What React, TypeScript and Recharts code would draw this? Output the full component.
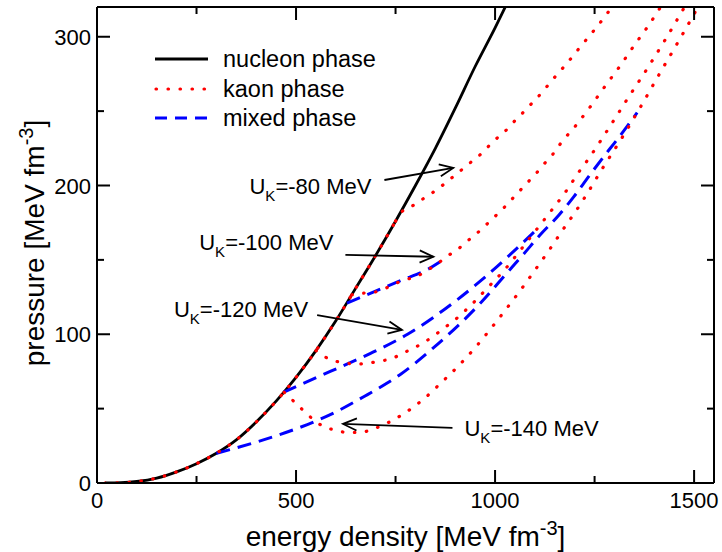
import React from 'react';
import { LineChart, Line, XAxis, YAxis, Legend, ReferenceLine } from 'recharts';

const FONT = '"Liberation Sans", Arial, Helvetica, sans-serif';

// energy density [MeV fm^-3] / pressure [MeV fm^-3]
const nucleonE = [20, 60, 100, 150, 200, 250, 300, 350, 400, 450, 500, 550, 600, 650, 700, 750, 800, 850, 900, 950, 1000, 1040];
const nucleonP = [0, 0.2, 1, 3.3, 7.5, 13, 20, 29, 41, 55, 71, 89, 109, 131, 153, 176, 200, 225, 252, 280, 306, 328];

// kaon condensed branches, each leaving the nucleon curve at its onset
const kaon80E = [750, 766, 793, 819, 844, 869, 893, 918, 941, 964, 986, 1008, 1031, 1053, 1074, 1095, 1116, 1137, 1156, 1177, 1216, 1255, 1294];
const kaon80P = [176, 182.4, 186.4, 191, 195.4, 200.3, 205.5, 211, 216, 221, 227, 232.6, 238, 244.5, 250, 256, 262, 268.7, 274.7, 281, 293.8, 306.4, 320];

const kaon100E = [640, 661, 691, 730, 766, 804, 830, 858, 883, 907, 931, 955, 977, 999, 1022, 1043, 1064, 1085, 1106, 1125, 1145, 1164, 1204, 1241, 1277, 1313, 1349, 1384, 1416];
const kaon100P = [126.5, 127.5, 128, 131.5, 136, 139, 143, 148, 153, 157.3, 162.7, 168, 173.4, 179, 185, 191, 197, 203, 209, 215, 221, 228, 240.7, 253.6, 267, 280, 294, 307, 320];

const kaon120E = [550, 586, 618, 650, 680, 710, 740, 766, 794, 821, 847, 871, 896, 941, 984, 1026, 1065, 1103, 1141, 1178, 1213, 1231, 1282, 1332, 1382, 1431, 1476];
const kaon120P = [89, 83, 81, 80, 80.5, 82, 83.5, 87, 90.5, 94.5, 99, 104, 109, 120, 132, 144, 157, 170, 183, 196, 210, 216.5, 237, 258, 278.5, 299.6, 320];

const kaon140E = [470, 498, 542, 569, 598, 628, 657, 688, 718, 745, 770, 795, 821, 865, 909, 951, 990, 1028, 1065, 1101, 1137, 1171, 1206, 1223, 1271, 1321, 1368, 1415, 1461, 1510];
const kaon140P = [61, 54, 43, 38, 35.6, 34, 34, 35.6, 39, 42.4, 46.5, 51, 56.5, 67.5, 79, 91.3, 104, 117, 130, 143.4, 157, 170.5, 184, 191, 212, 233, 254, 276, 297, 320];

// Gibbs mixed phases joining nucleon and kaon branches
const mixed100E = [628, 691, 766, 830, 875];
const mixed100P = [121, 128, 136.5, 143.5, 151];

const mixed120E = [468, 586, 686, 780, 904, 971, 1101];
const mixed120P = [61, 75, 87, 100, 123, 137.6, 169.5];

const mixed140E = [300, 418, 544, 594, 670, 728, 762, 837, 967, 1026, 1072, 1114, 1160, 1198, 1235, 1273, 1307, 1357];
const mixed140P = [20, 29, 41, 47, 58, 67, 73, 89, 122, 140, 154, 167, 180, 192.5, 206, 219.4, 231, 249];

const xTicks = [0, 250, 500, 750, 1000, 1250, 1500];
const yTicks = [0, 50, 100, 150, 200, 250, 300];

// U_K annotations: arrow tail -> arrow head, in data units
const noteLabels = ['-80', '-100', '-120', '-140'];
const noteTail = [[722, 203.7], [624, 153.3], [553, 112.9], [893, 37]];
const noteHead = [[895, 211.8], [845, 152.1], [766, 102.9], [618, 39.7]];

const legendNames = ['nucleon phase', 'kaon phase', 'mixed phase'];

const rows = (es: number[], ps: number[]) => es.map((e, i) => ({ e, p: ps[i] }));

const nucleonRows = rows(nucleonE, nucleonP);
const sharedKaonRows = nucleonRows.filter((r) => r.e <= 750);

// layout
const W = 722;
const H = 552;
const PLOT = { left: 97, top: 7, right: 714, bottom: 483 };
const MAJOR = 13;
const MINOR = 7;

const BLACK = { stroke: '#000', strokeWidth: 2.8 };
const RED = { stroke: '#ff0000', strokeWidth: 3.2, strokeDasharray: '0.5 11.5', strokeLinecap: 'round' as const };
const BLUE = { stroke: '#0000ff', strokeWidth: 3, strokeDasharray: '14 8' };

const noteStyle = [
  { dx: -13, dy: 14, anchor: 'end' },
  { dx: -12, dy: -5, anchor: 'end' },
  { dx: -9, dy: 2, anchor: 'end' },
  { dx: 12, dy: 8, anchor: 'start' },
];

function BottomTick(props: any) {
  const { x, y, payload } = props;
  const major = payload.value % 500 === 0;
  return (
    <g>
      <line x1={x} y1={y} x2={x} y2={y - (major ? MAJOR : MINOR)} stroke="#000" strokeWidth={2} />
      {major && (
        <text x={x} y={y + 24.5} textAnchor="middle" fontFamily={FONT} fontSize={22} fill="#000">
          {payload.value}
        </text>
      )}
    </g>
  );
}

function TopTick(props: any) {
  const { x, y, payload } = props;
  const major = payload.value % 500 === 0;
  return <line x1={x} y1={y} x2={x} y2={y + (major ? MAJOR : MINOR)} stroke="#000" strokeWidth={2} />;
}

function LeftTick(props: any) {
  const { x, y, payload } = props;
  const major = payload.value % 100 === 0;
  return (
    <g>
      <line x1={x} y1={y} x2={x + (major ? MAJOR : MINOR)} y2={y} stroke="#000" strokeWidth={2} />
      {major && (
        <text x={x - 6} y={y + 8} textAnchor="end" fontFamily={FONT} fontSize={22} fill="#000">
          {payload.value}
        </text>
      )}
    </g>
  );
}

function RightTick(props: any) {
  const { x, y, payload } = props;
  const major = payload.value % 100 === 0;
  return <line x1={x} y1={y} x2={x - (major ? MAJOR : MINOR)} y2={y} stroke="#000" strokeWidth={2} />;
}

function XTitle() {
  const cx = (PLOT.left + PLOT.right) / 2;
  return (
    <text x={cx} y={546} textAnchor="middle" fontFamily={FONT} fontSize={28} fill="#000">
      energy density [MeV fm<tspan dy={-11} fontSize={20}>-3</tspan>
      <tspan dy={11}>]</tspan>
    </text>
  );
}

function YTitle() {
  const cy = (PLOT.top + PLOT.bottom) / 2 - 2;
  return (
    <text
      x={44}
      y={cy}
      transform={`rotate(-90 44 ${cy})`}
      textAnchor="middle"
      fontFamily={FONT}
      fontSize={28}
      fill="#000"
    >
      pressure [MeV fm<tspan dy={-11} fontSize={20}>-3</tspan>
      <tspan dy={11}>]</tspan>
    </text>
  );
}

function NoteArrow(props: any) {
  const { x1, y1, x2, y2, idx } = props;
  if ([x1, y1, x2, y2].some((v) => typeof v !== 'number')) return null;
  const s = noteStyle[idx];
  const a = Math.atan2(y2 - y1, x2 - x1);
  const len = 15;
  const spread = 0.42;
  const h1 = [x2 - len * Math.cos(a - spread), y2 - len * Math.sin(a - spread)];
  const h2 = [x2 - len * Math.cos(a + spread), y2 - len * Math.sin(a + spread)];
  return (
    <g>
      <line x1={x1} y1={y1} x2={x2} y2={y2} stroke="#000" strokeWidth={1.8} />
      <polyline points={`${h1[0]},${h1[1]} ${x2},${y2} ${h2[0]},${h2[1]}`} fill="none" stroke="#000" strokeWidth={1.8} />
      <text x={x1 + s.dx} y={y1 + s.dy} textAnchor={s.anchor} fontFamily={FONT} fontSize={22} fill="#000">
        U<tspan dy={7} fontSize={15}>K</tspan>
        <tspan dy={-7}>={noteLabels[idx]} MeV</tspan>
      </text>
    </g>
  );
}

function PhaseLegend() {
  const samples = [BLACK, RED, BLUE];
  const rowY = [15, 45, 74];
  return (
    <svg width={260} height={92} style={{ display: 'block' }}>
      {legendNames.map((name, i) => (
        <g key={name}>
          <line x1={i === 1 ? 6 : 5} y1={rowY[i]} x2={58} y2={rowY[i]} {...samples[i]} strokeDasharray={i === 2 ? '12 8' : samples[i].strokeDasharray} />
          <text x={73} y={rowY[i] + 7.5} fontFamily={FONT} fontSize={23.5} fill="#000">
            {name}
          </text>
        </g>
      ))}
    </svg>
  );
}

const common = {
  type: 'monotone' as const,
  dataKey: 'p',
  xAxisId: 'b',
  yAxisId: 'l',
  dot: false,
  activeDot: false,
  isAnimationActive: false,
  legendType: 'none' as const,
};

export default function App() {
  return (
    <div style={{ position: 'absolute', left: 0, top: 0, width: W, height: H, background: '#fff' }}>
      <LineChart
        width={W}
        height={H}
        margin={{ top: PLOT.top - 4, right: W - PLOT.right - 4, bottom: H - PLOT.bottom - 60, left: PLOT.left - 60 }}
      >
        <XAxis
          xAxisId="b"
          type="number"
          dataKey="e"
          domain={[0, 1550]}
          allowDataOverflow
          ticks={xTicks}
          interval={0}
          tickSize={0}
          tickMargin={0}
          tickLine={false}
          tick={<BottomTick />}
          axisLine={{ stroke: '#000', strokeWidth: 2 }}
          height={60}
          label={{ content: () => <XTitle /> }}
        />
        <XAxis
          xAxisId="t"
          orientation="top"
          type="number"
          dataKey="e"
          domain={[0, 1550]}
          allowDataOverflow
          ticks={xTicks}
          interval={0}
          tickSize={0}
          tickMargin={0}
          tickLine={false}
          tick={<TopTick />}
          axisLine={{ stroke: '#000', strokeWidth: 2 }}
          height={4}
        />
        <YAxis
          yAxisId="l"
          type="number"
          domain={[0, 320]}
          allowDataOverflow
          ticks={yTicks}
          interval={0}
          tickSize={0}
          tickMargin={0}
          tickLine={false}
          tick={<LeftTick />}
          axisLine={{ stroke: '#000', strokeWidth: 2 }}
          width={60}
          label={{ content: () => <YTitle /> }}
        />
        <YAxis
          yAxisId="r"
          orientation="right"
          type="number"
          domain={[0, 320]}
          allowDataOverflow
          ticks={yTicks}
          interval={0}
          tickSize={0}
          tickMargin={0}
          tickLine={false}
          tick={<RightTick />}
          axisLine={{ stroke: '#000', strokeWidth: 2 }}
          width={4}
        />

        <Line {...common} data={nucleonRows} {...BLACK} />

        <Line {...common} data={rows(mixed100E, mixed100P)} {...BLUE} />
        <Line {...common} data={rows(mixed120E, mixed120P)} {...BLUE} />
        <Line {...common} data={rows(mixed140E, mixed140P)} {...BLUE} />

        <Line {...common} data={sharedKaonRows} {...RED} />
        <Line {...common} data={rows(kaon80E, kaon80P)} {...RED} />
        <Line {...common} data={rows(kaon100E, kaon100P)} {...RED} />
        <Line {...common} data={rows(kaon120E, kaon120P)} {...RED} />
        <Line {...common} data={rows(kaon140E, kaon140P)} {...RED} />

        {noteLabels.map((lab, i) => (
          <ReferenceLine
            key={lab}
            xAxisId="b"
            yAxisId="l"
            segment={[
              { x: noteTail[i][0], y: noteTail[i][1] },
              { x: noteHead[i][0], y: noteHead[i][1] },
            ]}
            ifOverflow="visible"
            shape={(p: any) => <NoteArrow {...p} idx={i} />}
          />
        ))}

        <Legend
          layout="horizontal"
          align="center"
          verticalAlign="middle"
          content={() => <PhaseLegend />}
          wrapperStyle={{ left: 150, top: 44, width: 260, height: 92 }}
        />
      </LineChart>
    </div>
  );
}
